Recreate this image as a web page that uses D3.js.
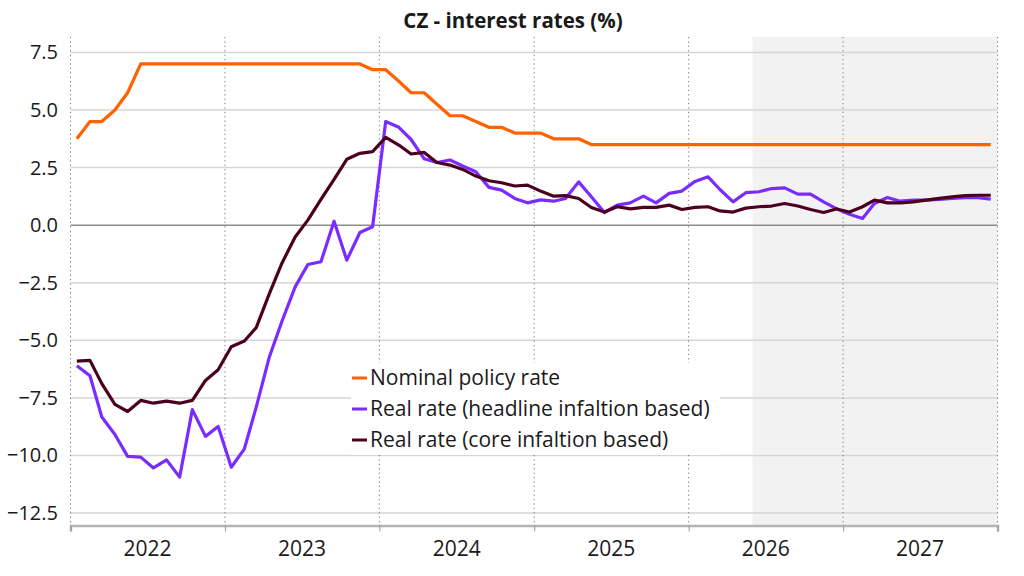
<!DOCTYPE html>
<html>
<head>
<meta charset="utf-8">
<script src="https://cdn.jsdelivr.net/npm/d3@7"></script>
<style>
  body { margin: 0; background: #fff; }
  text { font-family: "Open Sans", "Noto Sans", sans-serif; }
</style>
</head>
<body>
<div id="chart"></div>
<script>
// monthly values, Jan 2022 .. Dec 2027
const nominal = [
  3.75, 4.5, 4.5, 5.0, 5.75, 7.0, 7.0, 7.0, 7.0, 7.0, 7.0, 7.0,
  7.0, 7.0, 7.0, 7.0, 7.0, 7.0, 7.0, 7.0, 7.0, 7.0, 7.0, 6.75,
  6.75, 6.25, 5.75, 5.75, 5.25, 4.75, 4.75, 4.5, 4.25, 4.25, 4.0, 4.0,
  4.0, 3.75, 3.75, 3.75, 3.5, 3.5, 3.5, 3.5, 3.5, 3.5, 3.5, 3.5,
  3.5, 3.5, 3.5, 3.5, 3.5, 3.5, 3.5, 3.5, 3.5, 3.5, 3.5, 3.5,
  3.5, 3.5, 3.5, 3.5, 3.5, 3.5, 3.5, 3.5, 3.5, 3.5, 3.5, 3.5
];
const realHeadline = [
  -6.1, -6.54, -8.33, -9.09, -10.04, -10.07, -10.54, -10.19, -10.94, -8.01, -9.17, -8.74,
  -10.51, -9.71, -7.9, -5.72, -4.16, -2.68, -1.71, -1.59, 0.17, -1.52, -0.32, -0.07,
  4.5, 4.25, 3.72, 2.88, 2.72, 2.83, 2.57, 2.32, 1.64, 1.52, 1.16, 0.97,
  1.1, 1.04, 1.16, 1.88, 1.23, 0.55, 0.87, 0.97, 1.26, 0.97, 1.38, 1.48,
  1.9, 2.1, 1.55, 1.01, 1.41, 1.45, 1.59, 1.62, 1.35, 1.35, 1.01, 0.72,
  0.47, 0.29, 0.94, 1.2, 1.04, 1.09, 1.09, 1.12, 1.16, 1.19, 1.19, 1.13
];
const realCore = [
  -5.9, -5.87, -6.88, -7.78, -8.09, -7.61, -7.73, -7.64, -7.73, -7.61, -6.74, -6.28,
  -5.28, -5.03, -4.45, -2.97, -1.64, -0.51, 0.22, 1.12, 1.99, 2.86, 3.12, 3.19,
  3.81, 3.48, 3.09, 3.16, 2.72, 2.61, 2.42, 2.13, 1.93, 1.84, 1.7, 1.74,
  1.48, 1.26, 1.28, 1.16, 0.77, 0.57, 0.8, 0.71, 0.77, 0.77, 0.87, 0.68,
  0.77, 0.8, 0.62, 0.57, 0.74, 0.8, 0.83, 0.94, 0.83, 0.68, 0.55, 0.7,
  0.57, 0.8, 1.09, 0.97, 0.97, 1.01, 1.09, 1.16, 1.23, 1.28, 1.3, 1.3
];
const years = [2022, 2023, 2024, 2025, 2026, 2027];
const yTicks = [7.5, 5.0, 2.5, 0.0, -2.5, -5.0, -7.5, -10.0, -12.5];
const forecastStart = new Date(2026, 5, 1);

const seriesNames = ["Nominal policy rate", "Real rate (headline infaltion based)", "Real rate (core infaltion based)"];
const seriesColors = ["#ff6200", "#7a2bff", "#4b0020"];
const seriesValues = [nominal, realHeadline, realCore];

const months = d3.timeMonth.range(new Date(2022, 0, 1), new Date(2028, 0, 1));

const width = 1024, height = 576;
const svg = d3.select("#chart").append("svg")
    .attr("width", width)
    .attr("height", height);

const x = d3.scaleTime()
    .domain([new Date(2022, 0, 1), new Date(2028, 0, 1)])
    .range([70.5, 997.5]);

const y = d3.scaleLinear()
    .domain([-13.04, 8.17])
    .range([525.5, 37]);

// mid-month position
const mid = d => x(d3.timeDay.offset(d, 15));

// forecast shading
svg.append("rect")
    .attr("x", x(forecastStart))
    .attr("y", y.range()[1])
    .attr("width", x.range()[1] - x(forecastStart))
    .attr("height", y.range()[0] - y.range()[1])
    .attr("fill", "#f2f2f2");

// horizontal gridlines
svg.append("g").selectAll("line")
    .data(yTicks)
    .join("line")
    .attr("x1", x.range()[0])
    .attr("x2", x.range()[1])
    .attr("y1", d => y(d))
    .attr("y2", d => y(d))
    .attr("stroke", d => d === 0 ? "#8c8c8c" : "#d6d6d6")
    .attr("stroke-width", 1.5);

// dotted year separators
const bounds = years.map(yr => new Date(yr, 0, 1)).concat([new Date(2028, 0, 1)]);
svg.append("g").selectAll("line")
    .data(bounds)
    .join("line")
    .attr("x1", d => x(d))
    .attr("x2", d => x(d))
    .attr("y1", y.range()[1])
    .attr("y2", y.range()[0])
    .attr("stroke", "#777")
    .attr("stroke-width", 1)
    .attr("stroke-dasharray", "1.2,3.2");

// y labels
svg.append("g").selectAll("text")
    .data(yTicks)
    .join("text")
    .attr("x", 58)
    .attr("y", d => y(d))
    .attr("dy", "0.35em")
    .attr("text-anchor", "end")
    .attr("font-size", 20)
    .attr("fill", "#1a1a1a")
    .text(d => d3.format(".1f")(d));

// x axis
const xAxis = d3.axisBottom(x)
    .tickValues(bounds)
    .tickSize(6)
    .tickFormat("");
const gx = svg.append("g")
    .attr("transform", `translate(0,${y.range()[0]})`)
    .call(xAxis);
gx.select(".domain").attr("stroke", "#b4b4b4").attr("stroke-width", 2.5);
gx.selectAll(".tick line").attr("stroke", "#999");

svg.append("g").selectAll("text")
    .data(years)
    .join("text")
    .attr("x", d => x(new Date(d, 6, 2)))
    .attr("y", 549)
    .attr("dy", "0.35em")
    .attr("text-anchor", "middle")
    .attr("font-size", 21)
    .attr("fill", "#1a1a1a")
    .text(d => d);

// lines
const line = d3.line()
    .x((d, i) => mid(months[i]))
    .y(d => y(d));

svg.append("g").selectAll("path")
    .data(seriesValues)
    .join("path")
    .attr("fill", "none")
    .attr("stroke", (d, i) => seriesColors[i])
    .attr("stroke-width", 3.2)
    .attr("stroke-linejoin", "round")
    .attr("d", line);

// legend
const legend = svg.append("g").attr("transform", "translate(351,363)");
legend.append("rect")
    .attr("width", 369)
    .attr("height", 92)
    .attr("fill", "#fff");
const items = legend.selectAll("g")
    .data(seriesNames)
    .join("g")
    .attr("transform", (d, i) => `translate(0,${15 + i * 31})`);
items.append("line")
    .attr("x1", 1).attr("x2", 16)
    .attr("stroke", (d, i) => seriesColors[i])
    .attr("stroke-width", 3);
items.append("text")
    .attr("x", 19)
    .attr("dy", "0.35em")
    .attr("font-size", 21)
    .attr("fill", "#1a1a1a")
    .text(d => d);

// title
svg.append("text")
    .attr("x", 513)
    .attr("y", 21)
    .attr("dy", "0.35em")
    .attr("text-anchor", "middle")
    .attr("font-size", 20.5)
    .attr("font-weight", "bold")
    .attr("fill", "#1a1a1a")
    .text("CZ - interest rates (%)");
</script>
</body>
</html>
